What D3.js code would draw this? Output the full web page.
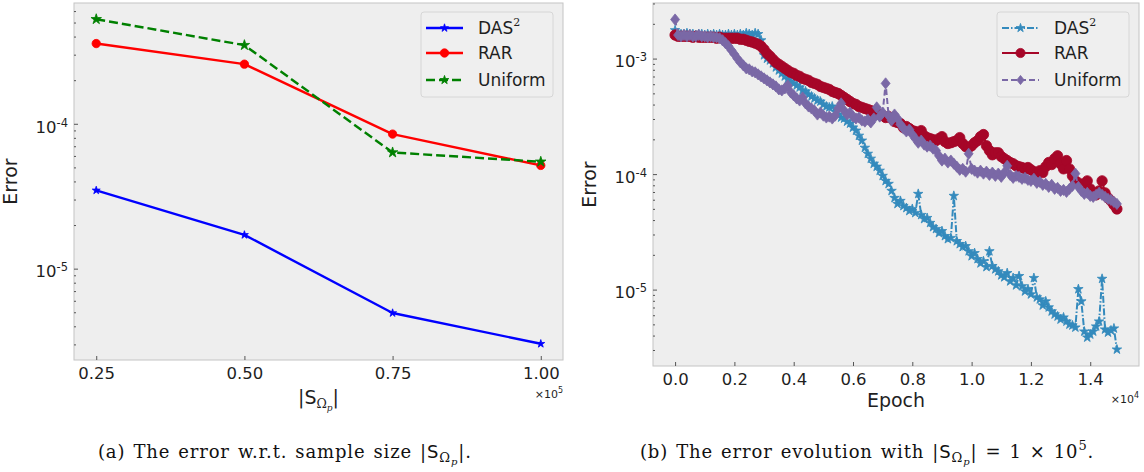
<!DOCTYPE html>
<html>
<head>
<meta charset="utf-8">
<script src="https://cdn.jsdelivr.net/npm/d3@7"></script>
<style>
  body { margin: 0; background: #fff; }
  svg { display: block; font-family: 'DejaVu Sans', sans-serif; }
</style>
</head>
<body>
<svg id="chart" width="1144" height="472"></svg>
<script>
// (a) error vs sample size
const sampleSizes = [25000, 50000, 75000, 100000];
const sizeDas2 = [3.47e-5, 1.71e-5, 4.94e-6, 3.03e-6];
const sizeRar = [3.58e-4, 2.58e-4, 8.49e-5, 5.16e-5];
const sizeUniform = [5.27e-4, 3.49e-4, 6.34e-5, 5.47e-5];

// (b) error evolution, one value every 100 epochs
const epochStep = 100;
const epochTicks = [0, 2000, 4000, 6000, 8000, 10000, 12000, 14000];
const evoDas2 = [
  1.76e-3, 1.66e-3, 1.63e-3, 1.63e-3, 1.66e-3, 1.63e-3, 1.63e-3, 1.60e-3, 1.63e-3, 1.63e-3,
  1.60e-3, 1.63e-3, 1.60e-3, 1.63e-3, 1.60e-3, 1.63e-3, 1.60e-3, 1.60e-3, 1.63e-3, 1.60e-3,
  1.63e-3, 1.60e-3, 1.63e-3, 1.60e-3, 1.66e-3, 1.63e-3, 1.60e-3, 1.66e-3, 1.63e-3, 1.44e-3,
  1.07e-3, 1.00e-3, 9.66e-4, 9.10e-4, 8.40e-4, 7.91e-4, 7.45e-4, 7.02e-4, 6.61e-4, 6.35e-4,
  6.10e-4, 5.86e-4, 5.63e-4, 5.30e-4, 5.20e-4, 4.89e-4, 4.70e-4, 4.52e-4, 4.34e-4, 4.25e-4,
  4.01e-4, 3.85e-4, 3.78e-4, 3.85e-4, 3.48e-4, 3.28e-4, 3.09e-4, 3.03e-4, 2.85e-4, 2.74e-4,
  2.53e-4, 2.38e-4, 2.15e-4, 1.95e-4, 1.69e-4, 1.50e-4, 1.36e-4, 1.23e-4, 1.16e-4, 1.07e-4,
  9.66e-5, 8.74e-5, 8.23e-5, 7.16e-5, 6.22e-5, 5.52e-5, 5.86e-5, 5.30e-5, 5.09e-5, 4.80e-5,
  4.99e-5, 4.61e-5, 6.74e-5, 4.43e-5, 4.09e-5, 4.17e-5, 3.78e-5, 3.48e-5, 3.35e-5, 3.09e-5,
  3.21e-5, 2.91e-5, 2.74e-5, 2.80e-5, 6.48e-5, 2.63e-5, 2.48e-5, 2.34e-5, 2.38e-5, 2.15e-5,
  1.95e-5, 2.07e-5, 1.84e-5, 1.69e-5, 1.76e-5, 1.57e-5, 2.15e-5, 1.60e-5, 1.50e-5, 1.44e-5,
  1.33e-5, 1.28e-5, 1.39e-5, 1.18e-5, 1.26e-5, 1.09e-5, 1.31e-5, 1.07e-5, 9.66e-6, 1.01e-5,
  9.10e-6, 1.26e-5, 8.57e-6, 8.23e-6, 7.30e-6, 7.91e-6, 7.02e-6, 6.48e-6, 6.10e-6, 5.86e-6,
  5.52e-6, 5.74e-6, 5.30e-6, 4.99e-6, 4.90e-6, 4.70e-6, 1.01e-5, 7.91e-6, 4.34e-6, 3.85e-6,
  4.09e-6, 4.34e-6, 4.80e-6, 5.30e-6, 1.24e-5, 4.52e-6, 4.25e-6, 4.43e-6, 4.61e-6, 3.03e-6
];
const evoRar = [
  1.60e-3, 1.56e-3, 1.56e-3, 1.56e-3, 1.56e-3, 1.56e-3, 1.53e-3, 1.56e-3, 1.53e-3, 1.53e-3,
  1.53e-3, 1.53e-3, 1.53e-3, 1.53e-3, 1.50e-3, 1.53e-3, 1.50e-3, 1.50e-3, 1.50e-3, 1.50e-3,
  1.50e-3, 1.50e-3, 1.47e-3, 1.47e-3, 1.44e-3, 1.41e-3, 1.39e-3, 1.36e-3, 1.33e-3, 1.28e-3,
  1.20e-3, 1.11e-3, 1.05e-3, 9.85e-4, 9.28e-4, 8.92e-4, 8.57e-4, 8.23e-4, 7.91e-4, 7.60e-4,
  7.45e-4, 7.16e-4, 7.02e-4, 6.74e-4, 6.61e-4, 6.48e-4, 6.22e-4, 6.10e-4, 5.98e-4, 5.74e-4,
  5.63e-4, 5.52e-4, 5.41e-4, 5.20e-4, 5.09e-4, 4.99e-4, 4.80e-4, 4.61e-4, 4.43e-4, 4.25e-4,
  4.09e-4, 4.01e-4, 3.85e-4, 3.78e-4, 3.70e-4, 3.63e-4, 3.55e-4, 3.41e-4, 3.41e-4, 3.28e-4,
  3.21e-4, 3.09e-4, 3.15e-4, 3.03e-4, 2.85e-4, 2.80e-4, 2.74e-4, 2.53e-4, 2.58e-4, 2.48e-4,
  2.38e-4, 2.34e-4, 2.24e-4, 2.38e-4, 2.15e-4, 2.07e-4, 2.03e-4, 1.99e-4, 1.95e-4, 2.03e-4,
  2.11e-4, 1.91e-4, 1.84e-4, 1.87e-4, 1.91e-4, 1.95e-4, 2.07e-4, 1.84e-4, 1.73e-4, 1.69e-4,
  1.76e-4, 1.87e-4, 1.95e-4, 2.11e-4, 2.20e-4, 1.76e-4, 1.60e-4, 1.47e-4, 1.53e-4, 1.53e-4,
  1.42e-4, 1.36e-4, 1.31e-4, 1.26e-4, 1.23e-4, 1.18e-4, 1.16e-4, 1.14e-4, 1.11e-4, 1.14e-4,
  1.09e-4, 1.05e-4, 1.03e-4, 1.07e-4, 1.03e-4, 1.16e-4, 1.26e-4, 1.21e-4, 1.36e-4, 1.44e-4,
  1.23e-4, 1.11e-4, 1.31e-4, 1.11e-4, 9.66e-5, 8.74e-5, 8.40e-5, 7.91e-5, 8.23e-5, 8.74e-5,
  7.45e-5, 6.74e-5, 6.61e-5, 7.16e-5, 8.74e-5, 6.88e-5, 6.22e-5, 5.86e-5, 5.41e-5, 4.99e-5
];
const evoUniform = [
  2.18e-3, 1.60e-3, 1.56e-3, 1.60e-3, 1.56e-3, 1.60e-3, 1.56e-3, 1.56e-3, 1.60e-3, 1.56e-3,
  1.56e-3, 1.53e-3, 1.56e-3, 1.53e-3, 1.53e-3, 1.50e-3, 1.44e-3, 1.36e-3, 1.28e-3, 1.18e-3,
  1.09e-3, 1.00e-3, 9.28e-4, 8.74e-4, 8.23e-4, 8.07e-4, 7.75e-4, 7.60e-4, 7.30e-4, 7.02e-4,
  6.74e-4, 6.48e-4, 6.22e-4, 5.98e-4, 5.74e-4, 5.41e-4, 5.30e-4, 5.52e-4, 5.86e-4, 5.09e-4,
  4.80e-4, 4.52e-4, 4.34e-4, 4.61e-4, 4.09e-4, 3.85e-4, 3.70e-4, 3.55e-4, 3.28e-4, 3.41e-4,
  3.21e-4, 3.09e-4, 3.15e-4, 3.03e-4, 3.21e-4, 3.70e-4, 4.09e-4, 3.55e-4, 3.28e-4, 3.41e-4,
  3.15e-4, 3.03e-4, 3.09e-4, 2.91e-4, 2.85e-4, 2.97e-4, 2.80e-4, 3.03e-4, 3.78e-4, 3.15e-4,
  3.41e-4, 6.10e-4, 3.21e-4, 2.91e-4, 3.28e-4, 3.03e-4, 2.69e-4, 2.48e-4, 2.34e-4, 2.43e-4,
  2.20e-4, 2.03e-4, 1.87e-4, 1.95e-4, 1.80e-4, 1.73e-4, 1.76e-4, 1.66e-4, 1.60e-4, 1.44e-4,
  1.31e-4, 1.36e-4, 1.26e-4, 1.31e-4, 1.23e-4, 1.16e-4, 1.09e-4, 1.11e-4, 1.05e-4, 1.50e-4,
  1.11e-4, 1.07e-4, 1.03e-4, 1.07e-4, 1.01e-4, 1.05e-4, 9.85e-5, 1.03e-4, 9.66e-5, 1.01e-4,
  9.47e-5, 1.03e-4, 1.18e-4, 9.85e-5, 9.28e-5, 9.66e-5, 9.47e-5, 9.10e-5, 9.28e-5, 8.92e-5,
  8.74e-5, 9.10e-5, 8.40e-5, 8.57e-5, 8.07e-5, 8.23e-5, 7.75e-5, 8.07e-5, 7.45e-5, 7.60e-5,
  7.16e-5, 7.30e-5, 7.02e-5, 7.45e-5, 7.91e-5, 1.01e-4, 7.75e-5, 7.16e-5, 6.74e-5, 6.88e-5,
  6.48e-5, 6.35e-5, 6.61e-5, 6.88e-5, 6.61e-5, 6.35e-5, 6.10e-5, 5.98e-5, 5.74e-5, 5.52e-5
];
const epochs = evoDas2.map((_, i) => i * epochStep);

const svg = d3.select('#chart');
const textColor = '#1f1f1f';

const markerPath = (type, r) => {
    if (type === 'circle') return d3.symbol(d3.symbolCircle, Math.PI * r * r)();
    if (type === 'diamond') return `M0,${-r}L${r * 0.8},0L0,${r}L${-r * 0.8},0Z`;
    return d3.symbol(d3.symbolStar, r * r / 0.8908130915)();
};

const panels = [
    {
        frame: { left: 74, right: 563, top: 3, bottom: 360 },
        xs: sampleSizes, xTicks: sampleSizes, xDiv: 1e5, xDigits: 2, xExp: '5',
        xLabelDy: 44, offsetDy: 38,
        series: [
            { name: 'DAS', sup: '2', values: sizeDas2, color: '#0000ff', width: 2.4, dash: null, marker: 'star', r: 4.2 },
            { name: 'RAR', values: sizeRar, color: '#ff0000', width: 2.4, dash: null, marker: 'circle', r: 4.2 },
            { name: 'Uniform', values: sizeUniform, color: '#008000', width: 2.4, dash: '9,4', marker: 'star', r: 5.5 }
        ]
    },
    {
        frame: { left: 653, right: 1139, top: 3, bottom: 366 },
        xs: epochs, xTicks: epochTicks, xDiv: 1e4, xDigits: 1, xExp: '4',
        xLabel: 'Epoch', xLabelDy: 41, offsetDy: 37,
        series: [
            { name: 'DAS', sup: '2', values: evoDas2, color: '#348ABD', width: 2, dash: '7,2,1.5,2', marker: 'star', r: 5 },
            { name: 'RAR', values: evoRar, color: '#A60628', width: 2, dash: null, marker: 'circle', r: 5.2 },
            { name: 'Uniform', values: evoUniform, color: '#7A68A6', width: 2, dash: '6,3', marker: 'diamond', r: 5.6 }
        ]
    }
];

panels.forEach(p => {
    const f = p.frame;
    const xExt = d3.extent(p.xs);
    const xPad = (xExt[1] - xExt[0]) * 0.05;
    const xScale = d3.scaleLinear()
        .domain([xExt[0] - xPad, xExt[1] + xPad])
        .range([f.left, f.right]);

    const logs = p.series.flatMap(s => s.values).map(Math.log10);
    const [lo, hi] = d3.extent(logs);
    const yPad = (hi - lo) * 0.05;
    const yScale = d3.scaleLog()
        .domain([Math.pow(10, lo - yPad), Math.pow(10, hi + yPad)])
        .range([f.bottom, f.top]);

    const g = svg.append('g');

    g.append('rect')
        .attr('x', f.left)
        .attr('y', f.top)
        .attr('width', f.right - f.left)
        .attr('height', f.bottom - f.top)
        .attr('fill', '#eeeeee')
        .attr('stroke', '#c4c4c4')
        .attr('stroke-width', 1);

    // x axis, ticks pointing inward
    const xAxis = d3.axisBottom(xScale)
        .tickValues(p.xTicks)
        .tickSizeInner(-4)
        .tickSizeOuter(0)
        .tickPadding(7)
        .tickFormat(d => (d / p.xDiv).toFixed(p.xDigits));
    const xg = g.append('g')
        .attr('transform', `translate(0,${f.bottom})`)
        .call(xAxis);
    xg.select('.domain').remove();
    xg.selectAll('line').attr('stroke', '#555');
    xg.selectAll('text')
        .attr('font-size', 16.5)
        .attr('font-family', "'DejaVu Sans', sans-serif")
        .attr('fill', textColor);

    // y axis: minor ticks then majors with 10^k labels
    const allTicks = yScale.ticks();
    const majors = allTicks.filter(d => Math.abs(Math.log10(d) - Math.round(Math.log10(d))) < 1e-9);
    const minors = allTicks.filter(d => !majors.includes(d));

    const yMinor = g.append('g')
        .attr('transform', `translate(${f.left},0)`)
        .call(d3.axisLeft(yScale).tickValues(minors).tickSizeInner(-2).tickSizeOuter(0).tickFormat(''));
    yMinor.select('.domain').remove();
    yMinor.selectAll('line').attr('stroke', '#555');

    const yMajor = g.append('g')
        .attr('transform', `translate(${f.left},0)`)
        .call(d3.axisLeft(yScale).tickValues(majors).tickSizeInner(-4).tickSizeOuter(0).tickPadding(6));
    yMajor.select('.domain').remove();
    yMajor.selectAll('line').attr('stroke', '#555');
    yMajor.selectAll('.tick text')
        .attr('font-size', 16.5)
        .attr('font-family', "'DejaVu Sans', sans-serif")
        .attr('fill', textColor)
        .attr('dy', '0.5em')
        .each(function(d) {
            const t = d3.select(this);
            t.text(null);
            t.append('tspan').text('10');
            t.append('tspan')
                .attr('dy', -6)
                .attr('font-size', 11.5)
                .text(Math.round(Math.log10(d)));
        });

    // series
    p.series.forEach(s => {
        const pts = s.values.map((v, i) => [p.xs[i], v]);
        g.append('path')
            .datum(pts)
            .attr('fill', 'none')
            .attr('stroke', s.color)
            .attr('stroke-width', s.width)
            .attr('stroke-dasharray', s.dash)
            .attr('stroke-linejoin', 'round')
            .attr('d', d3.line().x(d => xScale(d[0])).y(d => yScale(d[1])));
        g.selectAll(null)
            .data(pts)
            .join('path')
                .attr('transform', d => `translate(${xScale(d[0])},${yScale(d[1])})`)
                .attr('d', markerPath(s.marker, s.r))
                .attr('fill', s.color)
                .attr('stroke', s.color)
                .attr('stroke-width', 0.8);
    });

    // legend
    const lg = g.append('g').attr('transform', `translate(${f.right - 142},${f.top + 9})`);
    lg.append('rect')
        .attr('width', 132)
        .attr('height', 85)
        .attr('rx', 3)
        .attr('fill', '#efefef')
        .attr('stroke', '#d6d6d6');
    p.series.forEach((s, i) => {
        const cy = [16, 41, 68][i];
        const mr = Math.min(s.r, 4.6);
        lg.append('line')
            .attr('x1', 5).attr('x2', 42)
            .attr('y1', cy).attr('y2', cy)
            .attr('stroke', s.color)
            .attr('stroke-width', s.width)
            .attr('stroke-dasharray', s.dash);
        lg.append('path')
            .attr('transform', `translate(23.5,${cy})`)
            .attr('d', markerPath(s.marker, mr))
            .attr('fill', s.color)
            .attr('stroke', s.color)
            .attr('stroke-width', 0.8);
        const t = lg.append('text')
            .attr('x', 57)
            .attr('y', cy + 6)
            .attr('font-size', 17)
            .attr('fill', textColor)
            .text(s.name);
        if (s.sup) {
            t.append('tspan')
                .attr('dy', -8)
                .attr('font-size', 11)
                .attr('font-family', "'DejaVu Serif', serif")
                .text(s.sup);
        }
    });

    // axis labels
    g.append('text')
        .attr('transform', `translate(${f.left - 57},${(f.top + f.bottom) / 2}) rotate(-90)`)
        .attr('text-anchor', 'middle')
        .attr('font-size', 19)
        .attr('fill', textColor)
        .text('Error');

    const xl = g.append('text')
        .attr('x', (f.left + f.right) / 2)
        .attr('y', f.bottom + p.xLabelDy)
        .attr('text-anchor', 'middle')
        .attr('font-size', 19)
        .attr('fill', textColor);
    if (p.xLabel) {
        xl.text(p.xLabel);
    } else {
        xl.append('tspan').text('|S');
        xl.append('tspan').attr('dy', 4).attr('font-size', 12.5).attr('font-family', "'DejaVu Serif', serif").text('Ω');
        xl.append('tspan').attr('dy', 3).attr('font-size', 9).attr('font-style', 'italic').attr('font-family', "'DejaVu Serif', serif").text('p');
        xl.append('tspan').attr('dy', -7).text('|');
    }

    const off = g.append('text')
        .attr('x', f.right)
        .attr('y', f.bottom + p.offsetDy)
        .attr('text-anchor', 'end')
        .attr('font-size', 11)
        .attr('fill', textColor);
    off.append('tspan').text('×10');
    off.append('tspan').attr('dy', -5).attr('font-size', 8).text(p.xExp);
});

// captions
const capFont = "'DejaVu Serif', serif";
const addSubS = t => {
    t.append('tspan').attr('font-family', "'DejaVu Sans', sans-serif").attr('font-size', 18).text('S');
    t.append('tspan').attr('dy', 4).attr('font-size', 13).text('Ω');
    t.append('tspan').attr('dy', 3).attr('font-size', 10).attr('font-style', 'italic').text('p');
    t.append('tspan').attr('dy', -7).text('|');
};

const capA = svg.append('text')
    .attr('x', 98).attr('y', 458)
    .attr('font-family', capFont)
    .attr('font-size', 18)
    .attr('letter-spacing', 0.85)
    .attr('word-spacing', 1.5)
    .attr('fill', '#111');
capA.append('tspan').text('(a) The error w.r.t. sample size |');
addSubS(capA);
capA.append('tspan').text('.');

const capB = svg.append('text')
    .attr('x', 640).attr('y', 458)
    .attr('font-family', capFont)
    .attr('font-size', 18)
    .attr('letter-spacing', 0.85)
    .attr('word-spacing', 1.5)
    .attr('fill', '#111');
capB.append('tspan').text('(b) The error evolution with |');
addSubS(capB);
capB.append('tspan').text(' = 1 × 10');
capB.append('tspan').attr('dy', -8).attr('font-size', 13).text('5');
capB.append('tspan').attr('dy', 8).text('.');
</script>
</body>
</html>
